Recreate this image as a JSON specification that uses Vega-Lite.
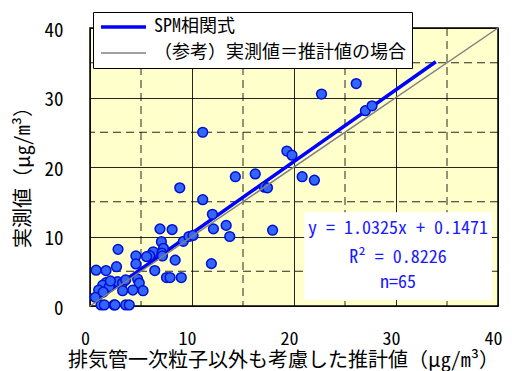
{
  "$schema": "https://vega.github.io/schema/vega-lite/v6.json",
  "width": 408,
  "height": 278,
  "autosize": {"type": "none"},
  "padding": {"left": 90, "top": 28, "right": 14, "bottom": 65},
  "background": "white",
  "config": {
    "view": {"fill": "#FFFFCC", "stroke": "#000000", "strokeWidth": 1.5},
    "font": "Noto Sans Mono CJK JP, Noto Sans CJK JP"
  },
  "datasets": {
    "points": [
      {"x": 11.05, "y": 25.0}, {"x": 22.7, "y": 30.5}, {"x": 26.1, "y": 32.0}, {"x": 27.0, "y": 28.1},
      {"x": 27.65, "y": 28.8}, {"x": 19.3, "y": 22.3}, {"x": 19.8, "y": 21.7}, {"x": 14.25, "y": 18.6},
      {"x": 16.2, "y": 19.0}, {"x": 20.8, "y": 18.6}, {"x": 22.0, "y": 18.1}, {"x": 17.1, "y": 17.1},
      {"x": 17.4, "y": 17.0}, {"x": 8.8, "y": 17.0}, {"x": 11.05, "y": 15.3}, {"x": 12.0, "y": 13.2},
      {"x": 12.1, "y": 11.1}, {"x": 13.35, "y": 11.6}, {"x": 13.7, "y": 10.0}, {"x": 17.9, "y": 10.9},
      {"x": 11.9, "y": 6.1}, {"x": 6.86, "y": 11.1}, {"x": 8.05, "y": 11.0}, {"x": 7.0, "y": 9.25},
      {"x": 7.2, "y": 8.3}, {"x": 9.15, "y": 9.3}, {"x": 9.7, "y": 10.0}, {"x": 10.1, "y": 10.15},
      {"x": 6.2, "y": 7.8}, {"x": 5.85, "y": 7.25}, {"x": 5.55, "y": 7.1}, {"x": 7.05, "y": 7.6},
      {"x": 8.35, "y": 6.6}, {"x": 6.35, "y": 5.1}, {"x": 7.5, "y": 4.1}, {"x": 7.85, "y": 4.1},
      {"x": 8.95, "y": 4.1}, {"x": 2.75, "y": 8.15}, {"x": 4.5, "y": 7.2}, {"x": 4.5, "y": 6.05},
      {"x": 0.6, "y": 5.15}, {"x": 1.57, "y": 5.1}, {"x": 2.6, "y": 5.65}, {"x": 1.57, "y": 3.35},
      {"x": 1.25, "y": 3.0}, {"x": 2.7, "y": 3.5}, {"x": 3.2, "y": 3.3}, {"x": 3.5, "y": 3.75},
      {"x": 4.67, "y": 3.85}, {"x": 4.83, "y": 3.3}, {"x": 0.85, "y": 2.3}, {"x": 3.2, "y": 2.2},
      {"x": 4.2, "y": 2.3}, {"x": 5.2, "y": 2.2}, {"x": 0.52, "y": 1.25}, {"x": 1.08, "y": 0.15},
      {"x": 1.4, "y": 0.15}, {"x": 2.35, "y": 0.15}, {"x": 2.45, "y": 0.15}, {"x": 3.5, "y": 0.15},
      {"x": 3.85, "y": 0.15}, {"x": 1.9, "y": 2.8}, {"x": 1.3, "y": 2.0}, {"x": 2.0, "y": 3.6},
      {"x": 7.1, "y": 7.2}
    ],
    "minor": [{"v": 5}, {"v": 15}, {"v": 25}, {"v": 35}],
    "fit": [
      {"series": "SPM相関式", "x": 0.8, "y": 0.97},
      {"series": "SPM相関式", "x": 33.9, "y": 35.15}
    ],
    "ref": [
      {"series": "（参考）実測値＝推計値の場合", "x": 0, "y": 0},
      {"series": "（参考）実測値＝推計値の場合", "x": 40, "y": 40}
    ]
  },
  "layer": [
    {
      "data": {"name": "minor"},
      "mark": {"type": "rule", "color": "#000000", "strokeWidth": 1, "strokeDash": [8, 5], "opacity": 0.85},
      "encoding": {"x": {"field": "v", "type": "quantitative", "scale": {"domain": [0, 40], "nice": false},
        "axis": {"title": "排気管一次粒子以外も考慮した推計値（μg/m³）", "values": [0, 10, 20, 30, 40],
          "grid": true, "gridColor": "#000000", "gridOpacity": 0.85, "gridWidth": 1, "ticks": false, "domain": false,
          "labelFlush": false, "labelFont": "Noto Sans Mono CJK JP, Noto Sans CJK JP", "labelFontSize": 18, "labelColor": "#000000",
          "labelPadding": 24, "labelOffset": -5, "labelBaseline": "top",
          "titleFont": "Noto Sans Mono CJK JP, Noto Sans CJK JP", "titleFontSize": 20, "titleFontWeight": "normal", "titleColor": "#000000",
          "titleX": 193, "titleY": 54, "titleBaseline": "middle", "titleAnchor": "middle"}}}
    },
    {
      "data": {"name": "minor"},
      "mark": {"type": "rule", "color": "#000000", "strokeWidth": 1, "strokeDash": [8, 5], "opacity": 0.85},
      "encoding": {"y": {"field": "v", "type": "quantitative", "scale": {"domain": [0, 40], "nice": false},
        "axis": {"title": "実測値（μg/m³）", "values": [0, 10, 20, 30, 40],
          "grid": true, "gridColor": "#000000", "gridOpacity": 0.85, "gridWidth": 1, "ticks": false, "domain": false,
          "labelFlush": false, "labelFont": "Noto Sans Mono CJK JP, Noto Sans CJK JP", "labelFontSize": 19, "labelColor": "#000000",
          "labelPadding": 27, "labelOffset": 2,
          "titleFont": "Noto Sans Mono CJK JP, Noto Sans CJK JP", "titleFontSize": 20, "titleFontWeight": "normal", "titleColor": "#000000",
          "titleX": -67, "titleY": 144, "titleBaseline": "middle", "titleAnchor": "middle"}}}
    },
    {
      "data": {"values": [{"box": "annotation"}]},
      "mark": {"type": "rect", "fill": "#FFFFFF"},
      "encoding": {
        "x": {"datum": 21.0, "type": "quantitative"},
        "x2": {"datum": 39.4},
        "y": {"datum": 0.86, "type": "quantitative"},
        "y2": {"datum": 13.5}
      }
    },
    {
      "data": {"name": "fit"},
      "mark": {"type": "line"},
      "encoding": {
        "x": {"field": "x", "type": "quantitative"},
        "y": {"field": "y", "type": "quantitative"},
        "color": {"field": "series", "type": "nominal",
          "scale": {"domain": ["SPM相関式", "（参考）実測値＝推計値の場合"], "range": ["#0000FF", "#808080"]},
          "legend": {"title": null, "orient": "none", "legendX": 3, "legendY": -16, "direction": "vertical",
            "fillColor": "#FFFFFF", "strokeColor": "#000000", "padding": 6, "rowPadding": 8, "clipHeight": 18,
            "symbolType": "stroke", "symbolSize": 2025, "labelFont": "Noto Sans Mono CJK JP, Noto Sans CJK JP",
            "labelFontSize": 18, "labelColor": "#000000", "labelOffset": 6, "labelLimit": 400}},
        "strokeWidth": {"field": "series", "type": "nominal",
          "scale": {"domain": ["SPM相関式", "（参考）実測値＝推計値の場合"], "range": [3.5, 1.5]},
          "legend": {"title": null, "orient": "none", "legendX": 3, "legendY": -16, "direction": "vertical",
            "fillColor": "#FFFFFF", "strokeColor": "#000000", "padding": 6, "rowPadding": 8, "clipHeight": 18,
            "symbolType": "stroke", "symbolSize": 2025, "labelFont": "Noto Sans Mono CJK JP, Noto Sans CJK JP",
            "labelFontSize": 18, "labelColor": "#000000", "labelOffset": 6, "labelLimit": 400}}
      }
    },
    {
      "data": {"name": "points"},
      "mark": {"type": "point", "filled": true, "fill": "#3366FF", "stroke": "#0010D0", "strokeWidth": 1.5, "opacity": 1, "size": 95},
      "encoding": {
        "x": {"field": "x", "type": "quantitative"},
        "y": {"field": "y", "type": "quantitative"}
      }
    },
    {
      "data": {"name": "ref"},
      "mark": {"type": "line"},
      "encoding": {
        "x": {"field": "x", "type": "quantitative"},
        "y": {"field": "y", "type": "quantitative"},
        "color": {"field": "series", "type": "nominal"},
        "strokeWidth": {"field": "series", "type": "nominal"}
      }
    },
    {
      "data": {"values": [{"label": "y = 1.0325x + 0.1471"}]},
      "mark": {"type": "text", "font": "Noto Sans Mono CJK JP, DejaVu Sans Mono", "fontSize": 18, "color": "#1a1aff", "align": "center", "baseline": "middle"},
      "encoding": {"x": {"datum": 30.2, "type": "quantitative"}, "y": {"datum": 11.1, "type": "quantitative"}, "text": {"field": "label"}}
    },
    {
      "data": {"values": [{"label": "R² = 0.8226"}]},
      "mark": {"type": "text", "font": "Noto Sans Mono CJK JP, DejaVu Sans Mono", "fontSize": 18, "color": "#1a1aff", "align": "center", "baseline": "middle"},
      "encoding": {"x": {"datum": 30.2, "type": "quantitative"}, "y": {"datum": 6.9, "type": "quantitative"}, "text": {"field": "label"}}
    },
    {
      "data": {"values": [{"label": "n=65"}]},
      "mark": {"type": "text", "font": "Noto Sans Mono CJK JP, DejaVu Sans Mono", "fontSize": 18, "color": "#1a1aff", "align": "center", "baseline": "middle"},
      "encoding": {"x": {"datum": 30.2, "type": "quantitative"}, "y": {"datum": 3.3, "type": "quantitative"}, "text": {"field": "label"}}
    }
  ]
}
